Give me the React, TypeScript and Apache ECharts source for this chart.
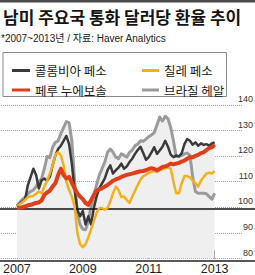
import React, { useEffect, useRef } from "react";
import * as echarts from "echarts";

const TITLE = "남미 주요국 통화 달러당 환율 추이";
const SUBTITLE = "*2007~2013년 / 자료: Haver Analytics";
const START_YEAR = 2007;
const X_TICKS = [2007, 2009, 2011, 2013];
const Y_TICKS = [80, 90, 100, 110, 120, 130, 140];
const Y_MIN = 80;
const Y_MAX = 140;
const Y_STEP = 10;

const COLOMBIA = [
  100.6, 101.4, 102.3, 103.2, 108.7, 111.9, 115.1, 112.6, 107.4, 110.6, 111.3, 110.4,
  111.9, 116.4, 120.3, 122.8, 124.1, 126, 127.9, 124.7, 117.1, 106.8, 99.1, 96.5,
  98.5, 93.3, 96.5, 93.3, 99.7, 104.2, 107.4, 109.4, 111.3, 114.5, 116.4, 113.2,
  114.5, 115.5, 117.1, 115.1, 116, 117.7, 119, 120.9, 122.4, 123.7, 121.2, 118.6,
  119.6, 121.5, 123.5, 120.9, 122.2, 123.7, 126, 123.7, 120.6, 119.6, 120.3, 119.9,
  121.2, 124.7, 126.7, 126, 124.5, 125.4, 124.1, 125, 124.4, 124.7, 124.1, 125, 125.4,
];
const CHILE = [
  100.5, 101.2, 102, 102.9, 104, 104.2, 104.5, 105.3, 106.2, 105.5, 108.1, 110.4,
  113.2, 116.4, 120.6, 121.5, 120.3, 116.4, 110, 106.8, 104.2, 100.4, 90.1, 85.6,
  84.4, 85.6, 88.2, 91.4, 94.6, 97.8, 99.7, 99.7, 99.1, 99.7, 102.3, 105.5,
  108.1, 106.8, 104, 104.2, 102.9, 101.7, 104.2, 106.5, 108.7, 110.9, 112.2, 112.7,
  113.5, 113.8, 114.2, 113.8, 114.5, 115, 115.3, 115.5, 115.1, 110, 105.5, 105.5,
  109.4, 112.2, 112.2, 111.7, 110.4, 109.4, 108.1, 110.4, 111.9, 113.2, 113.5, 113.2, 114.2,
];
const PERU = [
  99.7, 99.8, 100, 100.4, 100.8, 101, 101.4, 101.7, 101.9, 102.7, 104.9, 105.8,
  106.5, 108.1, 109.4, 112.6, 115.1, 112.6, 111.3, 111.9, 109.6, 107.4, 105.5, 104.2,
  103.2, 101.7, 101, 102.7, 104.9, 106.5, 107, 107.4, 108.1, 108.7, 109.6, 110.4,
  110.9, 111.3, 111.9, 112.3, 112.7, 112.9, 113.2, 113.5, 113.8, 114.1, 114.2, 114.5,
  115, 115.3, 115, 114.5, 115.1, 115.8, 116, 116.4, 117.1, 116.8, 117.1, 117.4,
  117.9, 118.3, 119, 119.6, 119.6, 120.1, 120.5, 121.2, 121.5, 122.4, 123.2, 123.5, 124.5,
];
const BRAZIL = [
  100.4, 101.9, 103.2, 104, 105.3, 106.2, 106.8, 108.1, 110, 111.3, 115.1, 119.9,
  119.4, 123.5, 125.4, 126, 128.8, 131.2, 133.5, 133.1, 126, 110.6, 97.8, 93.3,
  91.4, 91.2, 94.6, 100.4, 104.9, 108.7, 112.6, 115.1, 117.7, 121.5, 122.8, 121.5,
  119.6, 119, 120.9, 120.3, 119.6, 121.5, 122.4, 124.1, 124.7, 126, 125.8, 126.7,
  127.6, 128.3, 129.2, 132.2, 135.3, 133.7, 135.6, 134.7, 131.2, 126, 119.9, 119.9,
  120.3, 120.9, 121.2, 120.3, 111.9, 106.2, 105.5, 105.5, 105.5, 105.3, 104.2, 103.2, 105.5,
];

const SERIES = [
  { name: "브라질 헤알", data: BRAZIL, color: "#9b9b9b", width: 3 },
  { name: "콜롬비아 페소", data: COLOMBIA, color: "#3a3a3a", width: 2.5 },
  { name: "칠레 페소", data: CHILE, color: "#f2b01c", width: 2.5 },
  { name: "페루 누에보솔", data: PERU, color: "#e03e1a", width: 4 },
];

const KR = '"Noto Sans CJK KR", "Noto Sans", sans-serif';
const LAT = '"Liberation Sans", Arial, "Noto Sans CJK KR", sans-serif';

export default function App() {
  const ref = useRef<HTMLDivElement>(null);
  useEffect(() => {
    if (!ref.current) return;
    const chart = echarts.init(ref.current, null, { renderer: "svg" });
    const toPairs = (arr: number[]) => arr.map((v, i) => [START_YEAR + i / 12, v]);
    const envelope = PERU.map((_, i) =>
      Math.max(COLOMBIA[i], CHILE[i], PERU[i], BRAZIL[i])
    );
    const legendText = { fontFamily: KR, fontSize: 12.5, color: "#1a1a1a", lineHeight: 14 };
    const legendCommon = {
      orient: "vertical", top: 58.5, icon: "rect", itemHeight: 3, itemGap: 5.5,
      textStyle: legendText, z: 10, itemStyle: { borderWidth: 0 }, lineStyle: { width: 0 },
    };
    const baseGraphics: any[] = [
      { id: "bar", type: "rect", shape: { x: 0, y: 0, width: 255, height: 2.5 }, style: { fill: "#4a4a4a" }, z: 0 },
      {
        id: "title", type: "text", x: 3, y: 16,
        style: { text: TITLE, font: `bold 17px ${KR}`, fill: "#151515", textVerticalAlign: "middle" },
      },
      {
        id: "subtitle", type: "text", x: 1, y: 38.5,
        style: { text: SUBTITLE, font: `10px ${LAT}`, fill: "#222", textVerticalAlign: "middle" },
      },
      {
        id: "legendBox", type: "rect", shape: { x: 3, y: 52.5, width: 223.5, height: 44 },
        style: { fill: "#fff", stroke: "#8a8a8a", lineWidth: 1 }, z: 0,
      },
    ];
    const option: any = {
      animation: false,
      backgroundColor: "#ffffff",
      graphic: { elements: baseGraphics },
      legend: [
        { ...legendCommon, data: ["콜롬비아 페소", "페루 누에보솔"], left: 7, itemWidth: 18 },
        { ...legendCommon, data: ["칠레 페소", "브라질 헤알"], left: 137, itemWidth: 17 },
      ],
      grid: [
        { left: 0, right: 13, top: 105, bottom: 14 },
        { left: 0, right: 0, top: 105, bottom: 14 },
      ],
      xAxis: [
        {
          gridIndex: 0, type: "value", min: 2006.516, max: 2013.83,
          axisLine: { show: false },
          splitLine: { show: false },
          axisTick: { show: true, inside: true, length: 8, customValues: X_TICKS, lineStyle: { color: "#333", width: 1 } },
          axisLabel: {
            customValues: X_TICKS, formatter: (v: number) => String(Math.round(v)),
            fontFamily: LAT, fontSize: 12.5, color: "#1e1e1e", margin: 4,
          },
        },
        {
          gridIndex: 1, type: "value", min: 0, max: 1,
          axisLine: { show: true, onZero: false, lineStyle: { color: "#222", width: 1.5 } },
          axisTick: { show: false }, axisLabel: { show: false }, splitLine: { show: false },
        },
      ],
      yAxis: [
        {
          gridIndex: 0, type: "value", position: "right", min: Y_MIN, max: Y_MAX, interval: Y_STEP,
          axisLine: { show: false }, axisTick: { show: false }, axisLabel: { show: false },
          splitLine: { show: true, showMaxLine: true, lineStyle: { color: "#9a9a9a", type: "dotted", width: 1 } },
        },
        { gridIndex: 1, type: "value", min: Y_MIN, max: Y_MAX, show: false },
      ],
      series: [
        {
          type: "line", name: "envelope", xAxisIndex: 0, yAxisIndex: 0,
          data: toPairs(envelope), symbol: "none", silent: true, z: 1,
          lineStyle: { width: 0, opacity: 0 },
          areaStyle: { color: "#efefef", opacity: 1 },
        },
        {
          type: "line", name: "base", xAxisIndex: 1, yAxisIndex: 1, silent: true, z: 2,
          data: [], symbol: "none",
          markLine: {
            silent: true, symbol: "none", label: { show: false },
            lineStyle: { color: "#111", width: 1.5, type: "solid" },
            data: [{ yAxis: 100 }],
          },
        },
        ...SERIES.map((s, k) => ({
          type: "line", name: s.name, xAxisIndex: 0, yAxisIndex: 0,
          data: toPairs(s.data), symbol: "none", z: 3 + k,
          color: s.color,
          itemStyle: { color: s.color },
          lineStyle: { color: s.color, width: s.width, join: "round" },
        })),
      ],
    };
    chart.setOption(option);
    const rightX = chart.convertToPixel({ xAxisIndex: 1 }, 1) as number;
    const labelGraphics = Y_TICKS.map((v) => ({
      id: "ylab" + v,
      type: "text",
      x: rightX - 2,
      y: (chart.convertToPixel({ yAxisIndex: 0 }, v) as number) - 1.5,
      z: 20,
      style: {
        text: String(v), font: `9px ${LAT}`, fill: "#333",
        textAlign: "right", textVerticalAlign: "bottom",
      },
    }));
    chart.setOption({ graphic: { elements: [...baseGraphics, ...labelGraphics] } });
    return () => chart.dispose();
  }, []);
  return (
    <div
      ref={ref}
      style={{ position: "fixed", left: 0, top: 0, width: 255, height: 275, background: "#fff" }}
    />
  );
}
